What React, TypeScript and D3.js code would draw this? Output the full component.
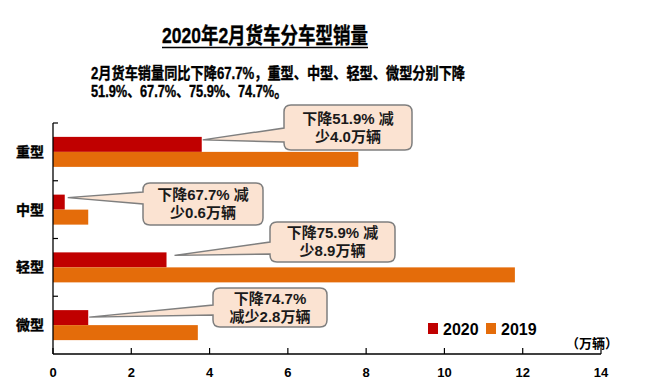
import * as d3 from "d3";

const categories = ["重型", "中型", "轻型", "微型"];
const sales2020 = [3.8, 0.3, 2.9, 0.9];
const sales2019 = [7.8, 0.9, 11.8, 3.7];
const xTicks = [0, 2, 4, 6, 8, 10, 12, 14];
const calloutLines = [
  ["下降51.9% 减", "少4.0万辆"],
  ["下降67.7% 减", "少0.6万辆"],
  ["下降75.9% 减", "少8.9万辆"],
  ["下降74.7%", "减少2.8万辆"],
];

const W = 645;
const H = 391;
const FONT = "'Liberation Sans', Arial, 'Noto Sans CJK SC', sans-serif";
const RED = "#C00000";
const ORANGE = "#E46C0A";

// callout boxes: [x, y, w, h], wedge base on left edge [b1, b2], tip offset [dx, dy]
const boxes = [
  { x: 284, y: 105, w: 128, h: 45, b1: 128, b2: 142, dx: 1, dy: 3 },
  { x: 143, y: 183, w: 120, h: 42, b1: 192, b2: 204, dx: 3, dy: 3 },
  { x: 270, y: 222, w: 125, h: 40, b1: 242, b2: 254, dx: 8, dy: 3 },
  { x: 213, y: 288, w: 114, h: 39, b1: 305, b2: 315, dx: 1, dy: 7 },
];

function calloutPath(b: any, tx: number, ty: number) {
  const r = 7;
  const { x, y, w, h } = b;
  return `M${x + r},${y} H${x + w - r} Q${x + w},${y} ${x + w},${y + r} V${y + h - r} Q${x + w},${y + h} ${x + w - r},${y + h} H${x + r} Q${x},${y + h} ${x},${y + h - r} V${b.b2} L${tx},${ty} L${x},${b.b1} V${y + r} Q${x},${y} ${x + r},${y} Z`;
}

export default function App() {
  const x = d3.scaleLinear().domain([0, 14]).range([53, 601]);
  const y = d3.scaleBand().domain(categories).range([123, 354]);
  const bw = y.bandwidth();
  const barH = 15;
  const x0 = x(0);
  const axisY = 354;
  const heavy = { stroke: "#000", strokeWidth: 0.35 };

  return (
    <svg width={W} height={H} style={{ position: "absolute", left: 0, top: 0, background: "#fff" }} fontFamily={FONT}>
      <rect width={W} height={H} fill="#fff" />
      {/* title */}
      <text x={162} y={43} fontSize={22} fontWeight="bold" textLength={206} lengthAdjust="spacingAndGlyphs" {...heavy}>
        2020年2月货车分车型销量
      </text>
      <line x1={162} x2={368} y1={47.5} y2={47.5} stroke="#000" strokeWidth={1.4} />
      <text x={91} y={79} fontSize={16} fontWeight="bold" textLength={374} lengthAdjust="spacingAndGlyphs" {...heavy}>
        2月货车销量同比下降67.7%，重型、中型、轻型、微型分别下降
      </text>
      <text x={91} y={97} fontSize={16} fontWeight="bold" textLength={196} lengthAdjust="spacingAndGlyphs" {...heavy}>
        51.9%、67.7%、75.9%、74.7%。
      </text>

      {/* bars */}
      {categories.map((c, i) => {
        const cy = (y(c) as number) + bw / 2;
        return (
          <g key={c}>
            <rect x={x0} y={cy - barH} width={x(sales2020[i]) - x0} height={barH} fill={RED} />
            <rect x={x0} y={cy} width={x(sales2019[i]) - x0} height={barH} fill={ORANGE} />
            <text x={30} y={cy + 5} fontSize={14} fontWeight="bold" textAnchor="middle" {...heavy}>
              {c}
            </text>
          </g>
        );
      })}

      {/* axes */}
      <line x1={x0} x2={x0} y1={123} y2={axisY} stroke="#000" strokeWidth={1.3} />
      {categories.map((c) => (
        <line key={c} x1={x0} x2={x0 + 5} y1={y(c)} y2={y(c)} stroke="#000" strokeWidth={1.2} />
      ))}
      <line x1={x0} x2={x(14)} y1={axisY} y2={axisY} stroke="#000" strokeWidth={1.3} />
      {xTicks.map((t) => (
        <g key={t}>
          <line x1={x(t)} x2={x(t)} y1={axisY} y2={axisY - 6} stroke="#000" strokeWidth={1.2} />
          <text x={x(t)} y={377} fontSize={13} fontWeight="bold" textAnchor="middle">
            {t}
          </text>
        </g>
      ))}
      <text x={592} y={348} fontSize={13} fontWeight="bold" textAnchor="middle">
        （万辆）
      </text>

      {/* callouts */}
      {boxes.map((b, i) => {
        const c = categories[i];
        const tx = x(sales2020[i]) + b.dx;
        const ty = (y(c) as number) + bw / 2 - barH + b.dy;
        const cx = b.x + b.w / 2;
        return (
          <g key={i}>
            <path d={calloutPath(b, tx, ty)} fill="#FBE3D2" stroke="#7F7F7F" strokeWidth={1.5} />
            <text x={cx} y={b.y + b.h / 2 - 4} fontSize={15} fontWeight="bold" textAnchor="middle" fill="#1a1a1a">
              {calloutLines[i][0]}
            </text>
            <text x={cx} y={b.y + b.h / 2 + 14} fontSize={15} fontWeight="bold" textAnchor="middle" fill="#1a1a1a">
              {calloutLines[i][1]}
            </text>
          </g>
        );
      })}

      {/* legend */}
      <rect x={428} y={323} width={10} height={11} fill={RED} />
      <text x={443} y={335} fontSize={16} fontWeight="bold">2020</text>
      <rect x={486} y={323} width={10} height={11} fill={ORANGE} />
      <text x={501} y={335} fontSize={16} fontWeight="bold">2019</text>
    </svg>
  );
}
